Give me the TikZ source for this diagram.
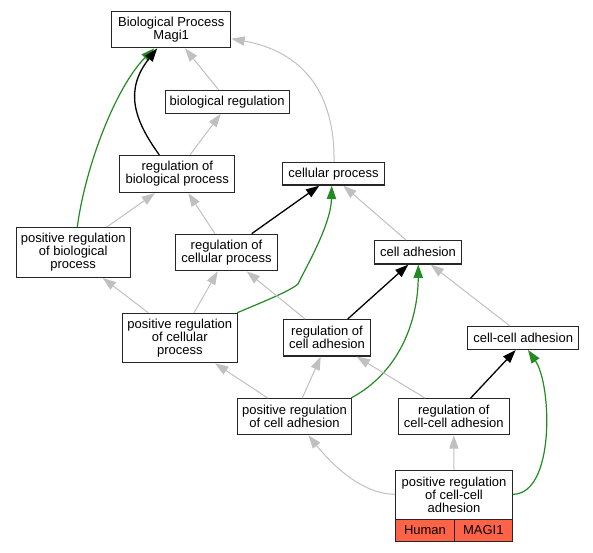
\documentclass[tikz,border=0pt]{standalone}
\usepackage{fontspec}
\setmainfont{Liberation Sans}
\usetikzlibrary{arrows.meta,calc}
\definecolor{edgegray}{HTML}{C0C0C0}
\definecolor{edgegreen}{HTML}{228B22}
\definecolor{cellred}{HTML}{FF6347}
\begin{document}
\begin{tikzpicture}[x=1pt,y=-1pt,
  box/.style={draw=black!85, line width=1.3pt, fill=white, inner sep=0pt, align=center,
    font=\fontsize{13}{13}\selectfont},
  cell/.style={draw=black!85, line width=1.3pt, fill=cellred, inner sep=0pt,
    font=\fontsize{13}{13}\selectfont},
  gedge/.style={draw=edgegray, line width=1pt, -{Triangle[length=13.3pt,width=9.3pt]}},
  bedge/.style={draw=black, line width=1.3pt, -{Triangle[length=13.3pt,width=9.3pt]}},
  gredge/.style={draw=edgegreen, line width=1.2pt, -{Triangle[length=13.3pt,width=9.3pt]}}]
\path[use as bounding box] (0,0) rectangle (593,552);
% nodes
\node[box, minimum width=119pt, minimum height=36pt] (bp) at (171.2,29.7) {Biological Process\\Magi1};
\node[box, minimum width=124pt, minimum height=23pt] (breg) at (227.2,101.8) {biological regulation};
\node[box, minimum width=115pt, minimum height=37pt] (rbp) at (177.3,174) {regulation of\\biological process};
\node[box, minimum width=102pt, minimum height=22.5pt] (cp) at (333.5,173.8) {cellular process};
\node[box, minimum width=114pt, minimum height=49.6pt] (prbp) at (73.2,252.5) {positive regulation\\of biological\\process};
\node[box, minimum width=101.6pt, minimum height=36.4pt] (rcp) at (226.5,252.5) {regulation of\\cellular process};
\node[box, minimum width=86.7pt, minimum height=23.3pt] (ca) at (418,252.3) {cell adhesion};
\node[box, minimum width=115pt, minimum height=49.3pt] (prcp) at (179.8,338) {positive regulation\\of cellular\\process};
\node[box, minimum width=86.7pt, minimum height=36.3pt] (rca) at (327,337.8) {regulation of\\cell adhesion};
\node[box, minimum width=111pt, minimum height=22.7pt] (cca) at (523.2,338) {cell-cell adhesion};
\node[box, minimum width=114.3pt, minimum height=36pt] (prca) at (294.5,416.7) {positive regulation\\of cell adhesion};
\node[box, minimum width=111pt, minimum height=36pt] (rcca) at (453.8,416.7) {regulation of\\cell-cell adhesion};
\node[box, minimum width=116.6pt, minimum height=48.6pt] (prcca) at (454,495) {positive regulation\\of cell-cell\\adhesion};
\node[cell, minimum width=58.6pt, minimum height=22pt] (human) at (425,530.3) {Human};
\node[cell, minimum width=58pt, minimum height=22pt] (magi) at (483.3,530.3) {MAGI1};
% edges
\draw[gedge] ($(breg.north)+(-8.7,0)$) -- ($(bp.south)+(13.8,0)$);
\draw[gedge] ($(rbp.north)+(12.7,0)$) -- ($(breg.south)+(-6.5,0)$);
\draw[gedge] ($(cp.north)+(0.5,0)$) .. controls (335,95) and (305,52) .. ($(bp.east)+(0,9)$);
\draw[gredge] ($(prbp.north)+(4.1,0)$) .. controls (85,168) and (115,88) .. ($(bp.south)+(-17,0)$);
\draw[bedge] ($(rbp.north)+(-18,0)$) .. controls (134,120) and (124,90) .. ($(bp.south)+(-14,0)$);
\draw[gedge] ($(prbp.north)+(33.5,0)$) -- ($(rbp.south)+(-22.3,0)$);
\draw[gedge] ($(rcp.north)+(-11.5,0)$) -- ($(rbp.south)+(11,0)$);
\draw[bedge] ($(rcp.north)+(25.2,0)$) -- ($(cp.south)+(-14.2,0)$);
\draw[gedge] ($(ca.north)+(-12,0)$) -- ($(cp.south)+(9.8,0)$);
\draw[gedge] ($(prcp.north)+(-31.5,0)$) -- ($(prbp.south)+(29.5,0)$);
\draw[gedge] ($(prcp.north)+(14.2,0)$) -- ($(rcp.south)+(-8.8,0)$);
\draw[gredge] ($(prcp.north)+(57.5,0)$) .. controls (265,301) and (290,291) .. (298,284)
   .. controls (305,269) and (331,225) .. ($(cp.south)+(-1.8,0)$);
\draw[gedge] ($(rca.north)+(-22,0)$) -- ($(rcp.south)+(20.2,0)$);
\draw[bedge] ($(rca.north)+(20.7,0)$) -- ($(ca.south)+(-9.7,0)$);
\draw[gedge] ($(cca.north)+(-13.2,0)$) -- ($(ca.south)+(12.7,0)$);
\draw[gedge] ($(prca.north)+(-26.8,0)$) -- ($(prcp.south)+(35.2,0)$);
\draw[gedge] ($(prca.north)+(7.8,0)$) -- ($(rca.south)+(-6.3,0)$);
\draw[gredge] ($(prca.north)+(56.5,0)$) .. controls (400,372) and (418,320) .. ($(ca.south)+(0.3,0)$);
\draw[gedge] ($(rcca.north)+(-28.8,0)$) -- ($(rca.south)+(29.7,0)$);
\draw[bedge] ($(rcca.north)+(16.9,0)$) -- ($(cca.south)+(-7.5,0)$);
\draw[gedge] ($(prcca.west)+(0,-0.7)$) .. controls (360,494) and (330,462) .. ($(prca.south)+(13.8,0)$);
\draw[gedge] (prcca.north) -- (rcca.south);
\draw[gredge] ($(prcca.east)+(0,-0.7)$) .. controls (555,494) and (552,385) .. ($(cca.south)+(4.8,0)$);
\end{tikzpicture}
\end{document}
